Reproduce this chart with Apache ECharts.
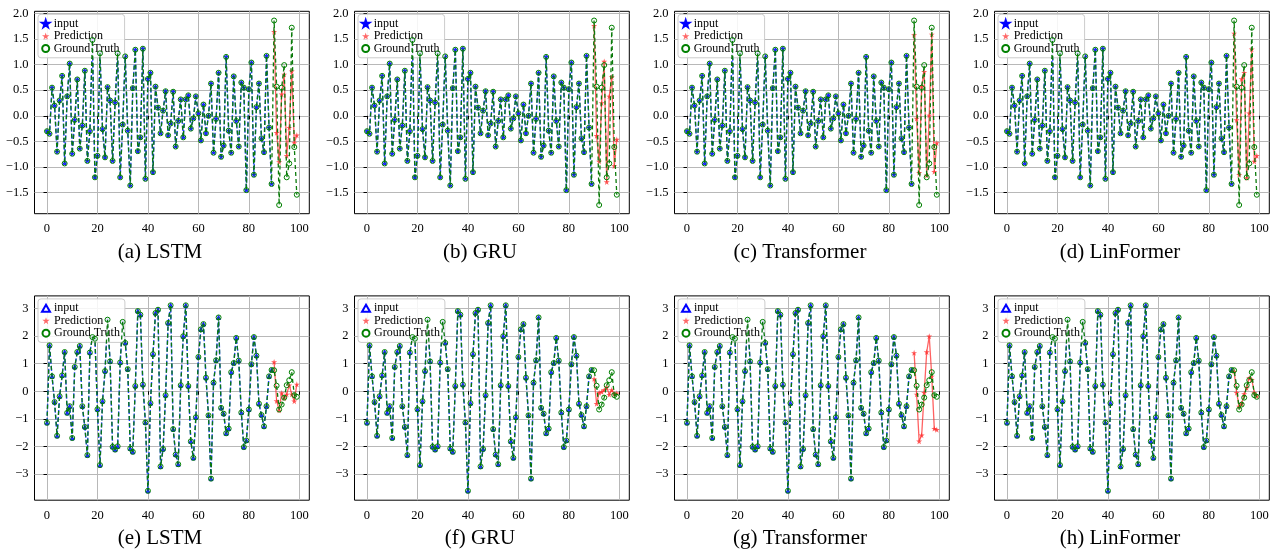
<!DOCTYPE html>
<html>
<head>
<meta charset="utf-8">
<script src="https://cdn.jsdelivr.net/npm/echarts@6/dist/echarts.min.js"></script>
<style>
  html, body { margin: 0; background: #fff; }
  #chart { width: 1276px; height: 549px; }
</style>
</head>
<body>
<div id="chart"></div>
<script>
// ---- data ----
const models = ['LSTM', 'GRU', 'Transformer', 'LinFormer']
const captionsTop = ['(a)', '(b)', '(c)', '(d)']
const captionsBottom = ['(e)', '(f)', '(g)', '(h)']

// row 1: input (t = 0..89) and ground truth (t = 90..99)
const inputTop = [
  -0.30, -0.35, 0.55, 0.20, -0.70, 0.30, 0.78, -0.93, 0.38, 1.02,
  -0.74, -0.08, 0.71, -0.64, -0.19, 0.88, -0.88, -0.30, 1.48, -1.20,
  -0.78, 1.22, -0.26, -0.81, 0.56, 0.30, -0.88, 0.26, 1.22, -1.20,
  -0.17, 1.16, -0.29, -1.36, 0.54, 1.29, -0.69, -0.42, 1.31, -1.23,
  0.72, 0.84, -1.10, 0.57, 0.16, -0.34, 0.10, 0.48, -0.38, -0.15,
  0.47, -0.60, -0.10, 0.32, -0.42, 0.32, 0.40, -0.25, -0.05, 0.38,
  0.05, -0.48, 0.22, -0.34, 0.00, 0.63, -0.72, -0.06, 0.84, -0.80,
  -0.58, 1.15, -0.29, -0.72, 0.77, -0.10, -0.60, 0.65, 0.55, -1.45,
  0.52, 1.04, -1.15, 0.17, 0.63, -0.44, -0.71, 1.17, -0.23, -1.33
]
const truthTop = [1.86, 0.57, -1.74, 0.55, 0.99, -1.20, -0.93, 1.72, -0.61, -1.54]
const predTop = {
  LSTM:        [1.64, -0.33, -0.90, 0.42, 0.81, -0.78, -0.23, 0.87, -0.53, -0.38],
  GRU:         [1.76, -0.39, -0.89, 0.25, 1.06, -1.29, 0.38, 0.76, -0.98, -0.46],
  Transformer: [1.58, -0.05, -1.11, 0.57, 0.86, -1.16, 0.01, 1.59, -1.09, -0.53],
  LinFormer:   [1.61, -0.08, -1.15, 0.72, 0.84, -1.21, 0.05, 1.30, -0.89, -0.78]
}

// row 2
const inputBottom = [
  -1.14, 1.66, 0.54, -0.39, -1.61, -0.18, 0.57, 1.42, -0.78, -0.54,
  -1.69, 0.88, 1.42, 1.64, -0.54, -1.29, -2.31, 1.40, 1.96, 1.90,
  -0.65, -2.67, -0.36, 0.73, 2.59, 1.08, -2.01, -2.11, -1.99, 1.04,
  2.51, 1.75, 0.80, -2.07, -2.19, 0.19, 2.90, 2.77, 0.24, -1.13,
  -3.60, -0.43, 1.34, 2.83, 2.95, -2.72, -2.09, -0.14, 2.47, 3.11,
  -1.37, -2.29, -2.64, 0.22, 1.99, 3.11, 0.19, -1.81, -2.41, -0.94,
  1.24, 2.24, 2.43, 0.49, -0.87, -3.16, 0.31, 1.12, 2.67, -0.60,
  -0.81, -1.52, -1.35, 0.69, 1.02, 1.93, 1.11, -0.77, -2.02, -1.78,
  -0.66, 0.98, 1.96, 1.29, -0.45, -0.86, -1.27, -0.54, 0.54, 0.77
]
const truthBottom = [0.76, 0.20, -0.66, -0.48, -0.23, 0.22, 0.40, 0.69, -0.14, -0.20]
const predBottom = {
  LSTM:        [1.06, -0.35, -0.69, -0.06, -0.25, -0.11, 0.22, -0.11, -0.36, 0.25],
  GRU:         [0.45, -0.45, -0.05, -0.02, 0.05, 0.15, -0.12, 0.05, -0.10, -0.07],
  Transformer: [1.39, -0.11, -1.81, -1.59, -0.05, 1.42, 1.99, 0.54, -1.35, -1.39],
  LinFormer:   [0.72, -0.05, -0.55, -0.45, -0.10, 0.12, 0.48, 0.42, -0.05, -0.18]
}

const xTicks = [0, 20, 40, 60, 80, 100]
const yTicksTop = [-1.5, -1.0, -0.5, 0.0, 0.5, 1.0, 1.5, 2.0]
const yTicksBottom = [-3, -2, -1, 0, 1, 2, 3]

// ---- layout ----
const FONT = 'Liberation Serif'
const STAR = 'path://M50,0 L61,35 L98,35 L68,57 L79,91 L50,70 L21,91 L32,57 L2,35 L39,35 Z'
const colLeft = [34.5, 354.5, 674.5, 994.5]
const plotW = 274.8
const rows = [
  { top: 11.3, h: 202.4, min: -1.91, max: 2.04, ticks: yTicksTop, dec: 1,
    input: inputTop, truth: truthTop, pred: predTop, caps: captionsTop, inSym: STAR, capY: 252 },
  { top: 295.9, h: 204.3, min: -3.94, max: 3.45, ticks: yTicksBottom, dec: 0,
    input: inputBottom, truth: truthBottom, pred: predBottom, caps: captionsBottom, inSym: 'triangle', capY: 538 }
]

const fmt = (v, dec) => (v < 0 ? '\u2212' : '') + Math.abs(v).toFixed(dec)
const toXY = (arr, start) => arr.map((v, i) => [start + i, v])

const grid = [], xAxis = [], yAxis = [], series = [], legend = [], graphic = []

rows.forEach((row, r) => {
  models.forEach((m, c) => {
    const gi = grid.length
    grid.push({
      left: colLeft[c], top: row.top, width: plotW, height: row.h,
      show: true, borderColor: '#000', borderWidth: 1, backgroundColor: 'transparent'
    })
    xAxis.push({
      gridIndex: gi, type: 'value', min: -4.95, max: 103.95,
      axisLine: { show: false },
      axisTick: { show: true, customValues: xTicks, length: 3.5, lineStyle: { color: '#000' } },
      axisLabel: { customValues: xTicks, margin: 9, fontFamily: FONT, fontSize: 12.5, color: '#000' },
      splitLine: { show: true, lineStyle: { color: '#b8b8b8', width: 1 } }
    })
    yAxis.push({
      gridIndex: gi, type: 'value', min: row.min, max: row.max,
      axisLine: { show: false },
      axisTick: { show: true, customValues: row.ticks, length: 3.5, lineStyle: { color: '#000' } },
      axisLabel: {
        customValues: row.ticks, margin: 6, fontFamily: FONT, fontSize: 12.5, color: '#000',
        formatter: v => fmt(v, row.dec)
      },
      splitLine: { show: true, lineStyle: { color: '#b8b8b8', width: 1 } }
    })

    // input
    series.push({
      name: 'input', type: 'line', xAxisIndex: gi, yAxisIndex: gi,
      data: toXY(row.input, 0),
      symbol: row.inSym, symbolSize: 4,
      itemStyle: { color: '#1f3fff', borderColor: '#0000ff', borderWidth: 0.8 },
      lineStyle: { color: '#2040ff', width: 1.4, type: [5, 2] },
      z: 2
    })
    // prediction
    series.push({
      name: 'Prediction', type: 'line', xAxisIndex: gi, yAxisIndex: gi,
      data: toXY(row.pred[m], 90),
      symbol: STAR, symbolSize: 6,
      itemStyle: { color: '#ff3030', opacity: 0.8 },
      lineStyle: { color: '#ff2020', width: 1.3, opacity: 0.7 },
      z: 3
    })
    // ground truth over the whole window
    series.push({
      name: 'Ground Truth', type: 'line', xAxisIndex: gi, yAxisIndex: gi,
      data: toXY(row.input.concat(row.truth), 0),
      symbol: 'circle', symbolSize: 5,
      itemStyle: { color: 'rgba(0,0,0,0)', borderColor: '#008000', borderWidth: 1 },
      lineStyle: { color: '#0a7a0a', width: 1.3, type: [4, 3] },
      z: 4
    })

    legend.push({
      orient: 'vertical', left: colLeft[c] + 3.5, top: row.top + 3,
      padding: [3, 5, 3, 3], itemGap: 0, itemWidth: 8, itemHeight: 7,
      backgroundColor: 'rgba(255,255,255,0.85)', borderColor: '#cccccc', borderWidth: 1, borderRadius: 3,
      textStyle: { fontFamily: FONT, fontSize: 12, color: '#000', lineHeight: 12.5, padding: [0, 0, 0, -1] },
      data: [
        { name: 'input', icon: row.inSym === 'triangle' ? 'emptyTriangle' : STAR, itemStyle: { color: '#0000ff' } },
        { name: 'Prediction', icon: STAR, itemStyle: { color: '#ff4444' } },
        { name: 'Ground Truth', icon: 'emptyCircle', itemStyle: { color: '#008000' } }
      ],
      selectedMode: false
    })

    graphic.push({
      type: 'text', x: 160 + 320 * c, y: row.capY,
      style: {
        text: row.caps[c] + ' ' + m, font: '21px ' + FONT, fill: '#000',
        textAlign: 'center', textVerticalAlign: 'middle'
      }
    })
  })
})

const chart = echarts.init(document.getElementById('chart'))
chart.setOption({
  animation: false,
  backgroundColor: '#fff',
  grid, xAxis, yAxis, series, legend, graphic
})
</script>
</body>
</html>
